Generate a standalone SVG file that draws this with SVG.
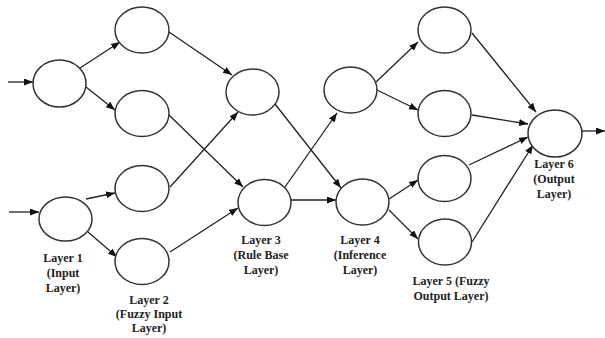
<svg xmlns="http://www.w3.org/2000/svg" width="605" height="338" viewBox="0 0 605 338">
<style>
.n{fill:#fff;stroke:#333;stroke-width:1.5}
.e{stroke:#222;stroke-width:1.3;fill:none;marker-end:url(#ah)}
.t{font-family:"Liberation Serif","Times New Roman",serif;font-weight:bold;font-size:12px;fill:#222;text-anchor:middle}
</style>
<defs>
<marker id="ah" markerUnits="userSpaceOnUse" markerWidth="10" markerHeight="8" refX="9" refY="3.5" orient="auto">
<path d="M0,0 L9,3.5 L0,7 z" fill="#111"/>
</marker>
</defs>
<rect width="605" height="338" fill="#fff"/>
<g id="connectors">
<line class="e" x1="8" y1="82" x2="33" y2="82"/>
<line class="e" x1="9" y1="212" x2="39" y2="212"/>
<line class="e" x1="80" y1="68" x2="120" y2="42"/>
<line class="e" x1="86" y1="87" x2="115" y2="110"/>
<line class="e" x1="86" y1="199" x2="115" y2="193"/>
<line class="e" x1="88" y1="232" x2="117" y2="257"/>
<line class="e" x1="169" y1="32" x2="232" y2="75"/>
<line class="e" x1="169" y1="115" x2="243" y2="187"/>
<line class="e" x1="170" y1="187" x2="238" y2="112"/>
<line class="e" x1="170" y1="252" x2="238" y2="208"/>
<line class="e" x1="275" y1="104" x2="341" y2="188"/>
<line class="e" x1="285" y1="187" x2="337" y2="113"/>
<line class="e" x1="291" y1="200" x2="336" y2="200"/>
<line class="e" x1="376" y1="82" x2="418" y2="42"/>
<line class="e" x1="377" y1="90" x2="418" y2="110"/>
<line class="e" x1="389" y1="199" x2="418" y2="180"/>
<line class="e" x1="389" y1="210" x2="418" y2="239"/>
<line class="e" x1="472" y1="33" x2="536" y2="112"/>
<line class="e" x1="472" y1="115" x2="528" y2="124"/>
<line class="e" x1="469" y1="165" x2="528" y2="137"/>
<line class="e" x1="472" y1="242" x2="533" y2="145"/>
<line class="e" x1="582" y1="131" x2="605" y2="131"/>
</g>
<g id="l1a"><ellipse class="n" cx="59.5" cy="83.5" rx="26.5" ry="23.5"/></g>
<g id="l1b"><ellipse class="n" cx="65.5" cy="219" rx="26.5" ry="22"/>
<text class="t" x="63" y="262">Layer 1</text><text class="t" x="63" y="277">(Input</text><text class="t" x="63" y="292">Layer)</text></g>
<g id="l2a"><ellipse class="n" cx="142" cy="30" rx="27" ry="23"/></g>
<g id="l2b"><ellipse class="n" cx="142" cy="113.5" rx="27" ry="23"/></g>
<g id="l2c"><ellipse class="n" cx="142" cy="188.5" rx="27" ry="23"/></g>
<g id="l2d"><ellipse class="n" cx="142" cy="261.5" rx="27" ry="23"/>
<text class="t" x="149" y="304">Layer 2</text><text class="t" x="149" y="318">(Fuzzy Input</text><text class="t" x="149" y="332">Layer)</text></g>
<g id="l3a"><ellipse class="n" cx="252.5" cy="92" rx="26.5" ry="23"/></g>
<g id="l3b"><ellipse class="n" cx="264.5" cy="202.5" rx="26.5" ry="23"/>
<text class="t" x="261" y="244">Layer 3</text><text class="t" x="261" y="259">(Rule Base</text><text class="t" x="261" y="274">Layer)</text></g>
<g id="l4a"><ellipse class="n" cx="350.5" cy="90" rx="26.5" ry="23"/></g>
<g id="l4b"><ellipse class="n" cx="362.5" cy="202" rx="26.5" ry="23"/>
<text class="t" x="360" y="244">Layer 4</text><text class="t" x="360" y="259">(Inference</text><text class="t" x="360" y="274">Layer)</text></g>
<g id="l5a"><ellipse class="n" cx="444.5" cy="30" rx="26.5" ry="23"/></g>
<g id="l5b"><ellipse class="n" cx="444.5" cy="113.5" rx="26.5" ry="23"/></g>
<g id="l5c"><ellipse class="n" cx="444.5" cy="178.5" rx="26.5" ry="23"/></g>
<g id="l5d"><ellipse class="n" cx="445" cy="242" rx="26.5" ry="23"/>
<text class="t" x="451" y="285">Layer 5 (Fuzzy</text><text class="t" x="451" y="300">Output Layer)</text></g>
<g id="l6"><ellipse class="n" cx="555" cy="133.5" rx="27" ry="23.5"/>
<text class="t" x="554" y="168">Layer 6</text><text class="t" x="554" y="183">(Output</text><text class="t" x="554" y="198">Layer)</text></g>
</svg>
